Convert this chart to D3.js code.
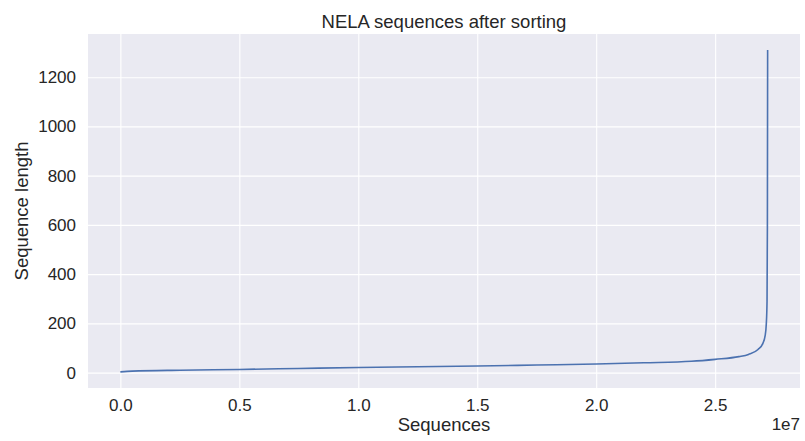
<!DOCTYPE html>
<html><head><meta charset="utf-8">
<script src="https://cdn.jsdelivr.net/npm/d3@7"></script>
<style>body{margin:0;background:#fff}svg text{font-family:"Liberation Sans",Arial,sans-serif;fill:#262626}</style>
</head><body>
<svg id="c" width="805" height="441"></svg>
<script>
// x in units of 1e7 sequences (sorted index), y = sequence length
const seqIndex = [0, 0.05, 0.25, 0.5, 0.75, 1.0, 1.25, 1.5, 1.75, 2.0, 2.2, 2.4, 2.5, 2.6, 2.64, 2.68, 2.70, 2.71, 2.715, 2.718, 2.7195, 2.7205];
const seqLength = [3, 6, 10, 13, 17, 21, 24, 27, 31, 35, 40, 46, 54, 65, 74, 94, 118, 150, 200, 290, 600, 1310];
const xTicks = [0, 0.5, 1.0, 1.5, 2.0, 2.5];
const yTicks = [0, 200, 400, 600, 800, 1000, 1200];
const title = "NELA sequences after sorting";
const xLabel = "Sequences";
const yLabel = "Sequence length";
const xOffsetText = "1e7";

const svg = d3.select("#c");
const L = 88, R = 800, T = 34, B = 388;
const xMin = d3.min(seqIndex), xMax = d3.max(seqIndex);
const yMin = d3.min(seqLength), yMax = d3.max(seqLength);
const xPad = (xMax - xMin) * 0.05, yPad = (yMax - yMin) * 0.05;
const x = d3.scaleLinear().domain([xMin - xPad, xMax + xPad]).range([L, R]);
const y = d3.scaleLinear().domain([yMin - yPad, yMax + yPad]).range([B, T]);

svg.append("rect").attr("x", L).attr("y", T).attr("width", R - L).attr("height", B - T).attr("fill", "#EAEAF2");

const gx = svg.append("g").attr("transform", `translate(0,${B})`)
  .call(d3.axisBottom(x).tickValues(xTicks).tickFormat(d3.format(".1f")).tickSize(-(B - T)).tickPadding(11));
const gy = svg.append("g").attr("transform", `translate(${L},0)`)
  .call(d3.axisLeft(y).tickValues(yTicks).tickFormat(d3.format("d")).tickSize(-(R - L)).tickPadding(12));
[gx, gy].forEach(g => {
  g.select(".domain").remove();
  g.selectAll(".tick line").attr("stroke", "#fff").attr("stroke-width", 1.1);
  g.selectAll(".tick text").attr("font-size", "17px").attr("fill", "#262626")
   .style("font-family", '"Liberation Sans", Arial, sans-serif');
});

svg.append("path").datum(seqIndex.map((d, i) => [d, seqLength[i]]))
  .attr("fill", "none").attr("stroke", "#4C72B0").attr("stroke-width", 1.6)
  .attr("d", d3.line().x(d => x(d[0])).y(d => y(d[1])).curve(d3.curveMonotoneX));

svg.append("text").attr("x", (L + R) / 2).attr("y", 27.5).attr("text-anchor", "middle")
  .attr("font-size", "18.5px").text(title);
svg.append("text").attr("x", (L + R) / 2).attr("y", 431).attr("text-anchor", "middle")
  .attr("font-size", "18.5px").text(xLabel);
svg.append("text").attr("transform", `translate(28,${(T + B) / 2}) rotate(-90)`).attr("text-anchor", "middle")
  .attr("font-size", "18.5px").text(yLabel);
svg.append("text").attr("x", R).attr("y", 430).attr("text-anchor", "end")
  .attr("font-size", "17px").text(xOffsetText);
</script>
</body></html>
